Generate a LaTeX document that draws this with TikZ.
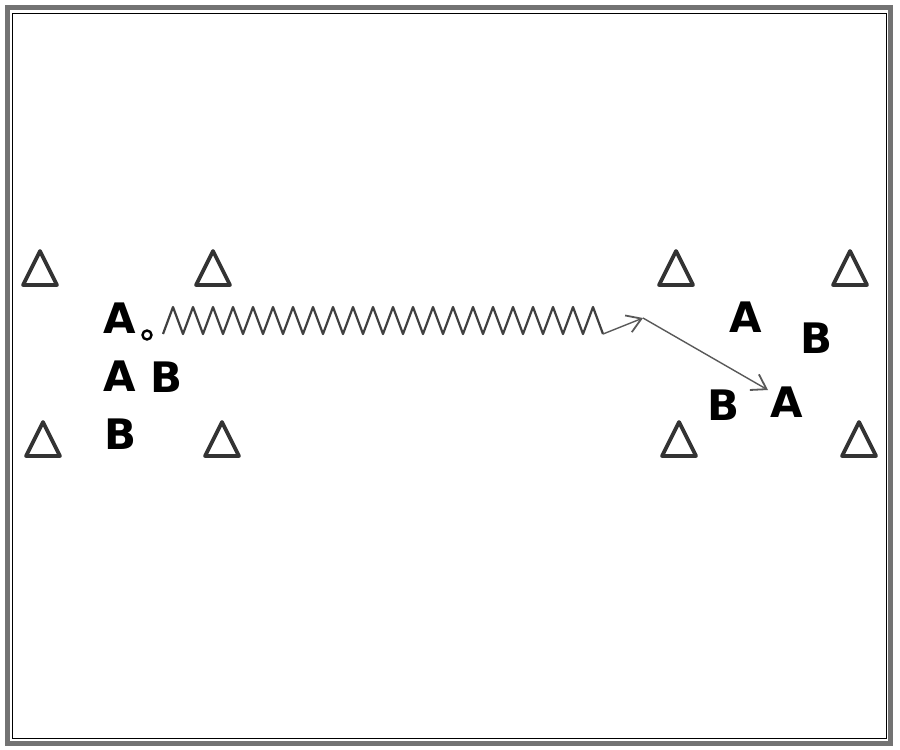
\documentclass[tikz,border=0pt]{standalone}
\usepackage{fontspec}
\newfontfamily\labfont{DejaVu Sans}
\usetikzlibrary{arrows.meta}
\tikzset{
  lab/.style={inner sep=0pt, font=\labfont\bfseries\fontsize{42}{42}\selectfont},
  cone/.style={draw=black!80, line width=3.8pt, line join=round},
  ballnode/.style={circle, draw=black, line width=2.4pt, fill=white, minimum size=9pt, inner sep=0pt},
  dribble/.style={draw=black!75, line width=2.2pt, line join=round},
  pass/.style={draw=black!65, line width=1.4pt, -{Straight Barb[length=14pt,width=18pt,line width=1.8pt]}}
}
\begin{document}
\begin{tikzpicture}[x=1pt,y=-1pt]
\useasboundingbox (0,0) rectangle (900,750);
% frame
\draw[black!55, line width=5pt] (7,7) rectangle (890.5,743.5);
\draw[black, line width=1pt] (12.5,13) rectangle (886,738.5);
% cones
\foreach \cx/\ya in {40/249, 213/249, 676/249, 850/249, 43/420, 222/420, 679/420, 859/420}{
  \draw[cone] (\cx,\ya+2) -- (\cx-17,\ya+36) -- (\cx+17,\ya+36) -- cycle;
}
% players
\node[lab] (a1) at (120,318) {A};
\node[lab] (a2) at (120,376) {A};
\node[lab] (b1) at (167,377) {B};
\node[lab] (b2) at (121,434) {B};
\node[lab] (a3) at (746,317) {A};
\node[lab] (b3) at (816,338) {B};
\node[lab] (b4) at (723,405) {B};
\node[lab] (a4) at (787,402) {A};
% ball
\node[ballnode] (ball) at (147,335) {};
% dribble
\coordinate (z0) at (163,334);
\coordinate (z1) at (603,334);
\coordinate (p1) at (643,318);
\coordinate (p2) at (768,390);
\draw[dribble] (z0) \foreach \i in {1,...,22}{ -- ++(10,-27) -- ++(10,27) };
% passes
\draw[pass] (z1) -- (p1);
\draw[pass] (p1) -- (p2);
\end{tikzpicture}
\end{document}
